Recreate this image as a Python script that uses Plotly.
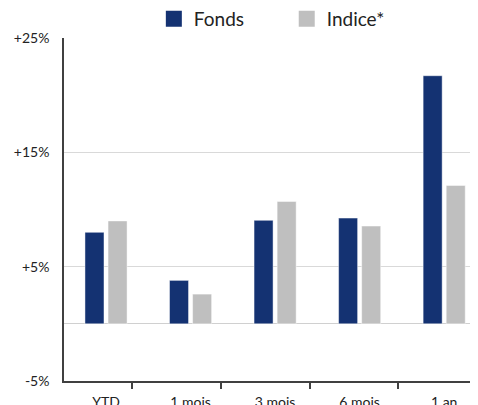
import plotly.graph_objects as go

categories = ["YTD", "1 mois", "3 mois", "6 mois", "1 an"]
fonds = [8.0, 3.8, 9.05, 9.25, 21.7]
indice = [9.0, 2.6, 10.7, 8.55, 12.1]
y_tickvals = [-5, 5, 15, 25]
y_ticktext = ["-5%", "+5%", "+15%", "+25%"]

NAVY = "#143272"
GREY = "#bfbfbf"
FONT = "Lato, 'Open Sans', sans-serif"

xpos = list(range(len(categories)))

fig = go.Figure()
fig.add_trace(go.Bar(x=xpos, y=fonds, name="Fonds", marker=dict(color=NAVY, line=dict(color="rgba(255,255,255,0.45)", width=1)),
                     width=0.225, offset=-0.249, showlegend=False))
fig.add_trace(go.Bar(x=xpos, y=indice, name="Indice*", marker=dict(color=GREY, line=dict(color="rgba(255,255,255,0.45)", width=1)),
                     width=0.225, offset=0.024, showlegend=False))
# legend entries
fig.add_trace(go.Scatter(x=[None], y=[None], mode="markers", name="Fonds",
                         marker=dict(symbol="square", size=16, color=NAVY), legend="legend"))
fig.add_trace(go.Scatter(x=[None], y=[None], mode="markers", name="Indice*",
                         marker=dict(symbol="square", size=16, color=GREY), legend="legend2"))

fig.update_layout(
    width=470, height=397,
    margin=dict(l=56, r=0, t=30, b=24, autoexpand=False),
    paper_bgcolor="white", plot_bgcolor="white",
    font=dict(family=FONT, size=14, color="#222222"),
    legend=dict(orientation="h", x=0.217, y=1.0, xanchor="left", yanchor="bottom",
                font=dict(size=19, color="#222222"), bgcolor="rgba(0,0,0,0)", borderwidth=0),
    legend2=dict(orientation="h", x=0.538, y=1.0, xanchor="left", yanchor="bottom",
                 font=dict(size=19, color="#222222"), bgcolor="rgba(0,0,0,0)", borderwidth=0),
    xaxis=dict(range=[-0.497, 4.4], tickvals=xpos, ticktext=categories, ticks="",
               showline=True, linecolor="#404040", linewidth=1.5, showgrid=False, zeroline=False,
               tickfont=dict(size=14, color="#222222"), ticklabelstandoff=7,
               minor=dict(tickvals=[0.31, 1.355, 2.41, 3.455], ticks="outside", ticklen=6,
                          tickcolor="#404040", tickwidth=1.5, showgrid=False)),
    yaxis=dict(range=[-5, 25], tickvals=y_tickvals, ticktext=y_ticktext, ticks="",
               showline=True, linecolor="#404040", linewidth=1.5,
               showgrid=True, gridcolor="#d9d9d9", gridwidth=1,
               zeroline=True, zerolinecolor="#d0d0d0", zerolinewidth=1.2,
               tickfont=dict(size=14, color="#222222"), ticklabelstandoff=10),
)

fig.write_html("out.html")
